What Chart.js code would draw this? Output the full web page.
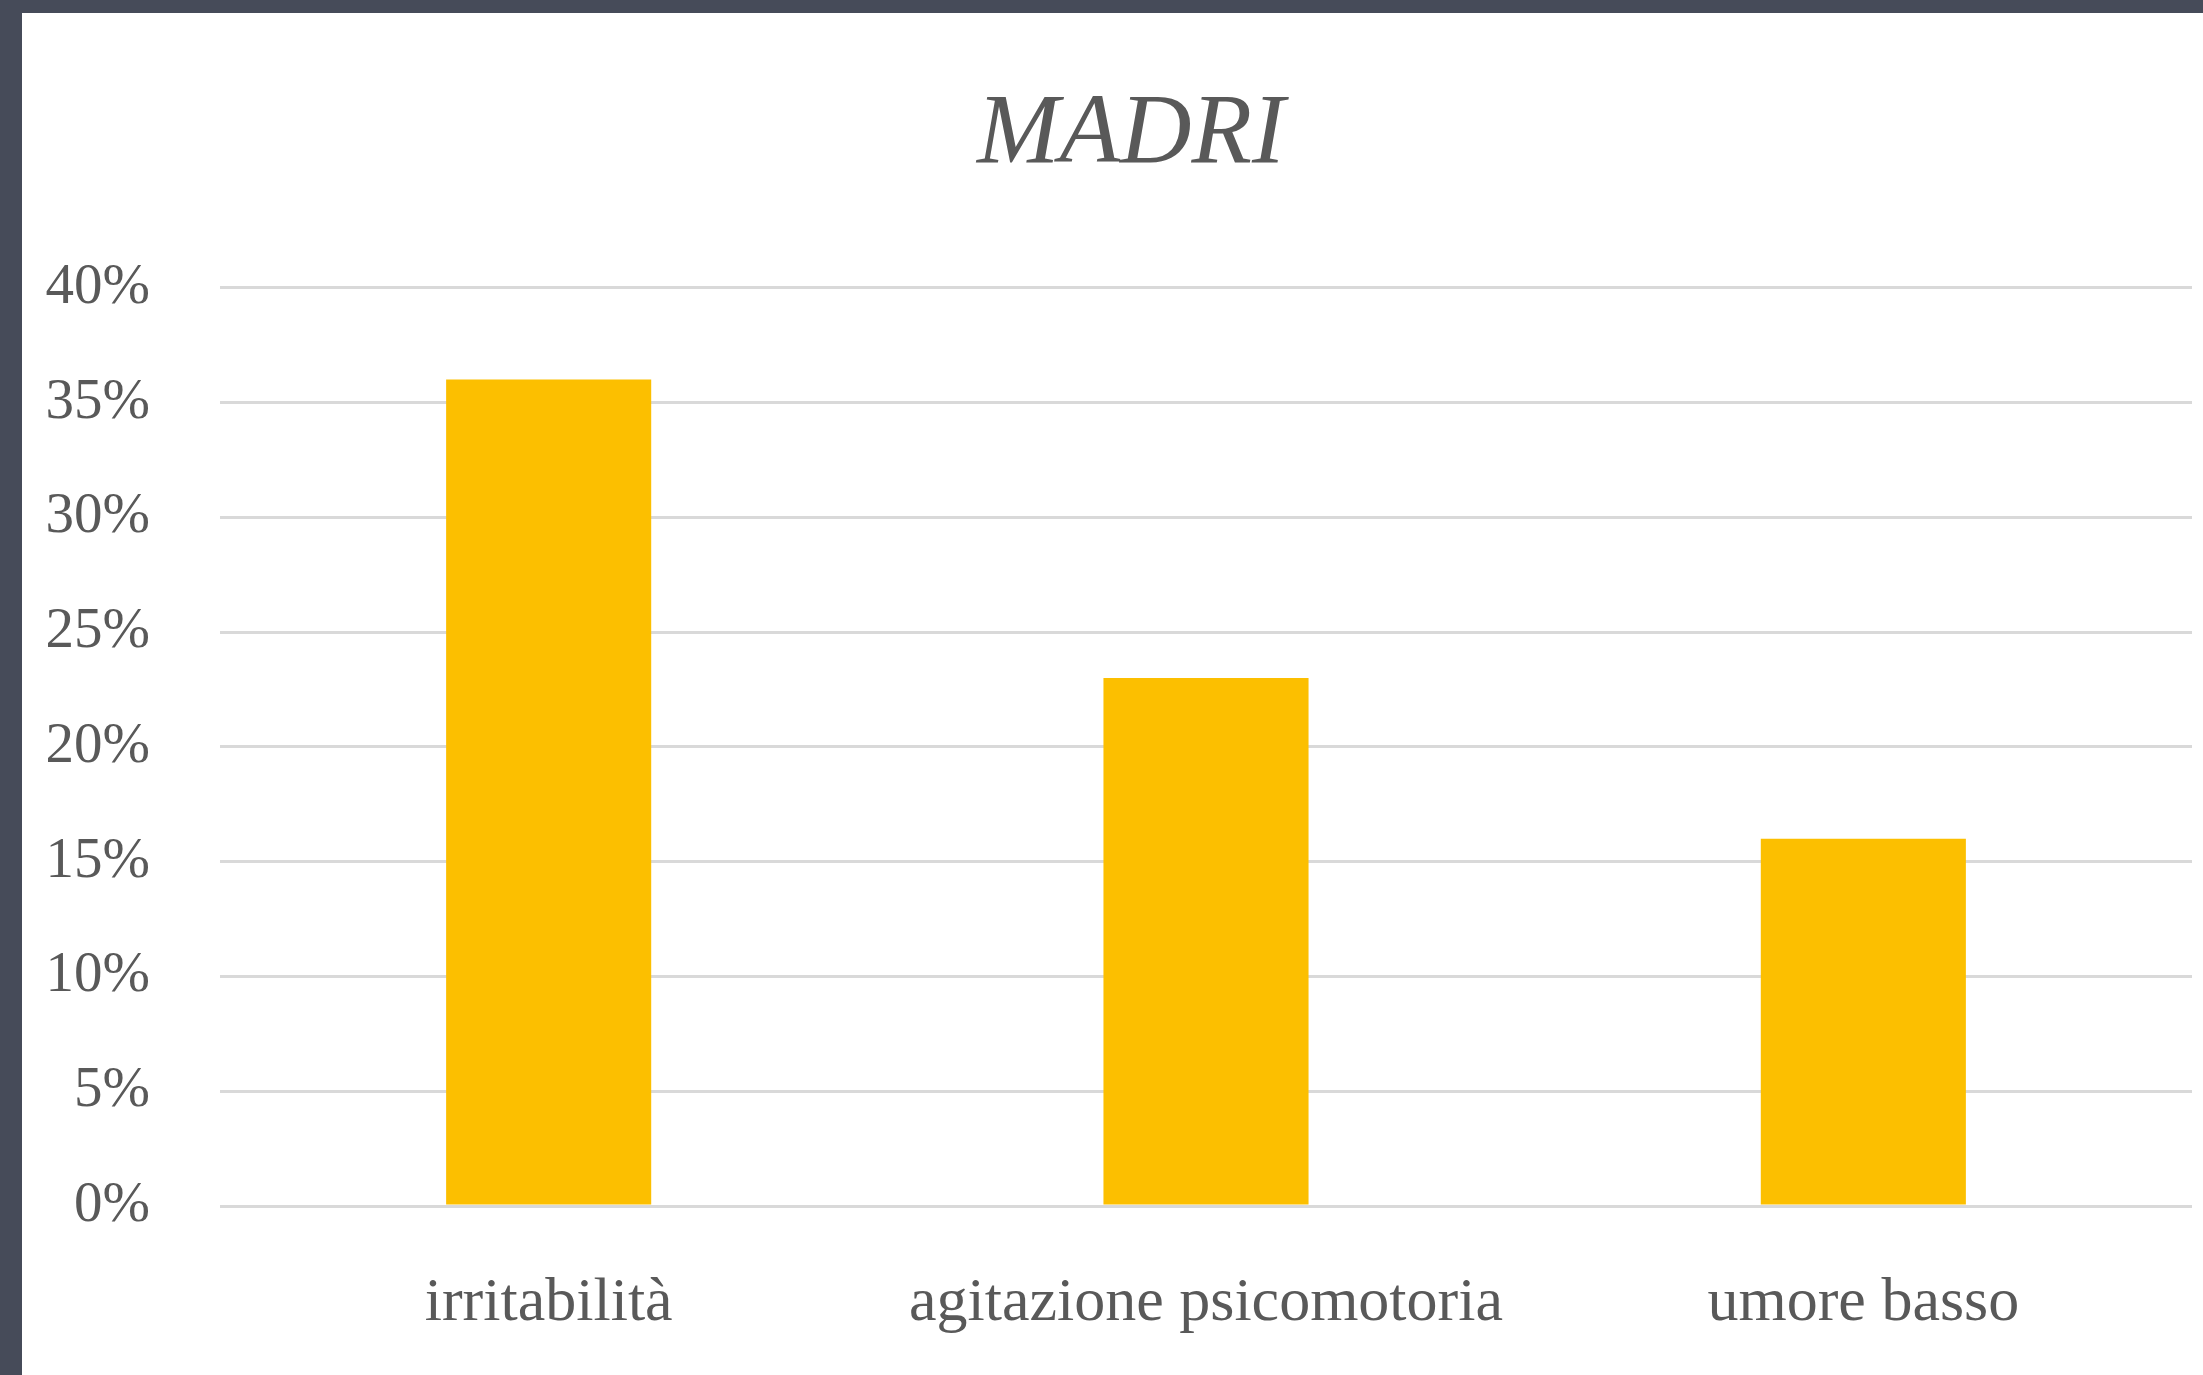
<!DOCTYPE html>
<html>
<head>
<meta charset="utf-8">
<script src="https://cdn.jsdelivr.net/npm/chart.js@4"></script>
<style>
    html, body {
        margin: 0;
        padding: 0;
        width: 2203px;
        height: 1375px;
        overflow: hidden;
        background: #464b59;
    }
    #box {
        position: absolute;
        left: 22px;
        top: 13px;
        width: 2181px;
        height: 1362px;
        background: #ffffff;
    }
</style>
</head>
<body>
<div id="box"><canvas id="madri"></canvas></div>
<script>
const categorie = ["irritabilità", "agitazione psicomotoria", "umore basso"];
const valori = [36, 23, 16];
const tickPercentuali = [0, 5, 10, 15, 20, 25, 30, 35, 40];

const grigio = "#595959";
const font = "'Liberation Serif', 'Times New Roman', serif";

// sposta un po' il titolo a destra come nell'originale
const spostaTitolo = {
    id: "spostaTitolo",
    afterLayout(chart) {
        if (chart.titleBlock) {
            chart.titleBlock.left += 48;
        }
    }
};

document.addEventListener("DOMContentLoaded", () => {
    const ctx = document.getElementById("madri");

    new Chart(ctx, {
        type: "bar",
        data: {
            labels: categorie,
            datasets: [{
                label: "MADRI",
                data: valori,
                backgroundColor: "#FCBF00",
                borderWidth: 0,
                categoryPercentage: 1,
                barPercentage: 0.312
            }]
        },
        options: {
            responsive: true,
            maintainAspectRatio: false,
            animation: false,
            layout: {
                padding: { left: 0, right: 11, top: 0, bottom: 0 }
            },
            plugins: {
                legend: { display: false },
                tooltip: { enabled: false },
                title: {
                    display: true,
                    text: "MADRI",
                    color: grigio,
                    font: { family: font, size: 99, style: "italic", weight: "normal", lineHeight: 1.2 },
                    padding: { top: 64, bottom: 92 }
                }
            },
            scales: {
                x: {
                    afterFit(scale) {
                        scale.height = 169;
                    },
                    grid: { display: false, drawTicks: false, tickLength: 0 },
                    border: { display: false },
                    ticks: {
                        color: grigio,
                        font: { family: font, size: 62 },
                        padding: 61,
                        maxRotation: 0,
                        autoSkip: false
                    }
                },
                y: {
                    min: 0,
                    max: 40,
                    afterBuildTicks(scale) {
                        scale.ticks = tickPercentuali.map(v => ({ value: v }));
                    },
                    afterFit(scale) {
                        scale.width = 198;
                    },
                    grid: { color: "#D9D9D9", lineWidth: 3, drawTicks: false, tickLength: 0 },
                    border: { display: false },
                    ticks: {
                        color: grigio,
                        font: { family: font, size: 57 },
                        padding: 70,
                        callback: v => v + "%"
                    }
                }
            }
        },
        plugins: [spostaTitolo]
    });
});
</script>
</body>
</html>
